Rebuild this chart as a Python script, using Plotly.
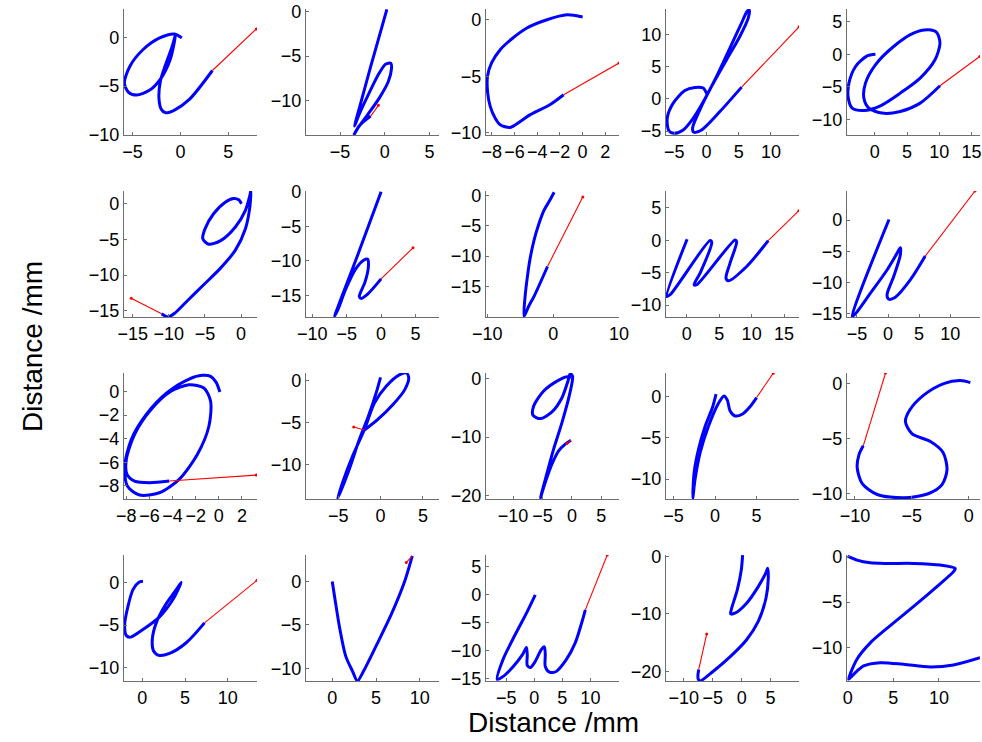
import plotly.graph_objects as go

W, H = 982, 742

# ---------------- data: pen-down trajectories (blue) and pen-up segment (red) ----------------
a_x = [0.14, -0.62, -2.17, -3.9, -5.28, -5.86, -5.45, -4.59, -3.2, -2.0, -1.07, -0.62, -0.52, -0.86, -1.55, -2.1, -2.24, -2.0, -1.55, -0.62, 0.93, 3.34]
a_y = [0.0, 0.41, 0.0, -1.2, -2.93, -4.66, -5.62, -5.93, -5.41, -4.14, -2.24, -0.34, 0.34, -0.86, -2.76, -4.48, -6.38, -7.41, -7.76, -7.48, -6.38, -3.38]
a_rx = [3.34, 7.93]
a_ry = [-3.38, 0.93]

b_x = [0.23, -0.26, -1.58, -2.7, -3.38, -2.9, -1.77, -0.64, 0.11, 0.68, 0.75, 0.38, -0.64, -1.95, -2.9, -3.46, -2.8, -1.58]
b_y = [0.26, -1.5, -6.2, -10.34, -12.9, -11.65, -9.2, -6.95, -5.9, -5.83, -6.39, -7.9, -9.77, -11.65, -12.97, -13.9, -12.8, -11.77]
b_rx = [-1.58, -0.71]
b_ry = [-11.77, -10.56]

c_x = [0.0, -1.37, -3.14, -4.9, -6.3, -7.25, -8.0, -8.37, -8.35, -8.13, -7.7, -7.25, -6.37, -5.49, -4.6, -2.85, -1.67]
c_y = [0.24, 0.44, 0.0, -0.73, -1.75, -2.65, -3.8, -5.0, -6.5, -7.67, -8.7, -9.3, -9.53, -9.0, -8.4, -7.5, -6.64]
c_rx = [-1.67, 3.2]
c_ry = [-6.64, -3.83]

d_x = [0.1, -0.52, -1.81, -3.37, -5.18, -6.11, -5.85, -5.08, -3.63, -2.07, -0.78, 1.55, 3.63, 5.44, 6.32, 6.63, 6.48, 5.18, 3.11, 0.78, -1.04, -2.18, -1.97, -0.78, 2.07, 5.44]
d_y = [0.62, 1.66, 1.76, 1.3, -0.67, -3.0, -4.97, -5.34, -4.82, -3.0, -0.93, 3.47, 7.88, 11.76, 13.58, 13.73, 12.54, 9.69, 6.06, 1.92, -1.71, -4.56, -5.18, -4.82, -1.97, 1.81]
d_rx = [5.44, 14.35]
d_ry = [1.81, 11.14]

e_x = [0.1, -1.18, -2.97, -4.0, -4.1, -3.49, -1.69, 0.87, 3.95, 7.03, 9.33, 10.1, 9.59, 8.31, 6.0, 2.92, 0.1, -1.44, -1.69, -0.92, 1.13, 3.95, 7.03, 10.1]
e_y = [0.05, -0.21, -1.85, -4.41, -6.72, -8.26, -8.62, -7.9, -5.95, -3.64, -0.82, 1.74, 3.38, 3.79, 3.28, 1.23, -1.59, -4.41, -6.72, -8.26, -9.03, -8.77, -7.49, -4.82]
e_rx = [10.1, 16.26]
e_ry = [-4.82, -0.31]

g_x = [0.05, -0.33, -1.02, -2.19, -3.81, -4.98, -5.3, -4.51, -2.88, -0.79, 0.6, 1.21, 1.35, 1.21, 0.6, -0.79, -2.88, -5.21, -7.53, -9.16, -10.1, -11.0]
g_y = [0.0, 0.56, 0.74, 0.23, -1.4, -3.49, -4.88, -5.67, -5.21, -3.26, -0.93, 1.16, 1.86, -0.47, -3.49, -6.51, -9.07, -11.4, -13.72, -15.35, -15.9, -15.44]
g_rx = [-11.0, -15.2]
g_ry = [-15.44, -13.26]

h_x = [0.0, -3.41, -6.75, -6.24, -5.12, -3.66, -2.54, -1.95, -1.85, -2.34, -3.17, -2.93, -1.95, 0.0]
h_y = [0.0, -9.17, -18.0, -16.98, -14.05, -11.12, -9.9, -9.76, -10.88, -13.07, -15.12, -15.41, -14.78, -12.59]
h_rx = [0.0, 4.63]
h_ry = [-12.59, -8.1]

i_x = [0.15, -0.6, -1.38, -2.2, -2.9, -3.5, -3.91, -4.25, -4.43, -3.7, -2.9, -0.86]
i_y = [0.5, -1.0, -2.45, -4.8, -7.36, -10.4, -13.37, -16.5, -19.9, -18.2, -16.6, -11.7]
i_rx = [-0.86, 4.5]
i_ry = [-11.7, -0.28]

m_x = [0.05, -3.08, -2.56, 3.59, 3.85, 2.05, 1.13, 1.54, 7.44, 7.69, 6.67, 6.05, 6.41, 9.23, 12.56]
m_y = [0.15, -8.67, -8.41, -0.05, -0.36, -5.08, -6.87, -6.87, 0.05, -0.21, -3.54, -5.85, -6.26, -4.05, -0.05]
m_rx = [12.56, 17.28]
m_ry = [-0.05, 4.56]

n_x = [0.16, -5.78, -5.24, -2.83, -0.16, 1.44, 1.98, 1.98, 0.91, -0.16, 0.11, 1.18, 3.58, 5.99]
n_y = [0.11, -15.5, -15.08, -11.76, -8.02, -5.35, -4.44, -5.61, -9.09, -12.03, -12.73, -12.41, -9.63, -5.78]
n_rx = [5.99, 14.0]
n_ry = [-5.78, 4.7]

o_x = [0.09, -0.23, -0.71, -1.43, -2.57, -4.43, -6.29, -7.57, -8.14, -7.91, -6.86, -5.14, -3.43, -1.86, -0.86, -0.71, -1.29, -2.57, -4.14, -5.86, -7.29, -8.0, -7.94, -7.29, -6.0, -4.29]
o_y = [-0.06, 0.76, 1.26, 1.35, 1.04, -0.08, -1.97, -4.07, -6.32, -8.01, -8.76, -8.57, -7.44, -5.34, -2.95, -0.84, 0.28, 0.56, 0.0, -1.54, -3.65, -5.76, -7.02, -7.58, -7.72, -7.58]
o_rx = [-4.29, 3.23]
o_ry = [-7.58, -7.08]

p_x = [0.0, -0.52, -1.43, -2.5, -3.69, -5.08, -4.48, -3.29, -1.9, -0.71, 0.67, 2.26, 3.06, 3.33, 2.86, 1.47, -0.32, -1.9]
p_y = [0.36, -1.5, -4.27, -7.04, -10.59, -14.15, -12.17, -9.01, -5.85, -2.69, -0.71, 0.67, 0.87, 0.28, -1.11, -2.89, -4.66, -5.93]
p_rx = [-1.9, -3.17]
p_ry = [-5.93, -5.57]

q_x = [-0.17, -0.85, -2.54, -4.8, -6.5, -6.61, -5.37, -3.39, -1.69, -0.68, -0.28, 0.11, -0.4, -1.69, -3.11, -4.35, -5.37, -4.52, -3.39, -2.26, -1.13, -0.17]
q_y = [0.17, 0.34, -0.4, -2.1, -4.66, -6.25, -6.82, -5.68, -3.24, -0.4, 0.91, 0.45, -2.67, -7.5, -12.05, -16.6, -20.45, -17.73, -14.6, -12.33, -11.19, -10.51]
q_rx = [-0.17, -0.85]
q_ry = [-10.51, -11.08]

r_x = [0.12, -0.28, -1.2, -2.0, -2.52, -2.68, -2.4, -1.8, -0.8, 0.4, 1.08, 1.48, 1.8, 2.4, 3.32, 4.2, 5.0]
r_y = [0.24, -1.27, -3.65, -6.43, -9.21, -12.3, -10.0, -6.83, -3.65, -0.87, 0.04, -0.48, -1.75, -2.38, -2.14, -1.27, -0.16]
r_rx = [5.0, 7.0]
r_ry = [-0.16, 2.78]

s_x = [0.15, -0.73, -2.19, -3.95, -5.18, -5.56, -4.97, -3.36, -2.25, -1.9, -2.34, -3.51, -5.7, -8.04, -9.36, -9.8, -9.65, -9.27]
s_y = [0.09, 0.27, 0.0, -1.05, -2.41, -3.46, -4.58, -5.27, -6.27, -7.83, -9.19, -10.0, -10.39, -10.09, -9.1, -7.68, -6.48, -5.66]
s_rx = [-9.27, -7.31]
s_ry = [-5.66, 0.96]

u_x = [0.08, -0.39, -1.09, -1.67, -2.06, -1.87, -1.4, 0.08, 2.02, 3.58, 4.36, 4.55, 3.97, 2.61, 1.63, 1.17, 1.32, 1.95, 3.19, 5.14, 7.28]
u_y = [0.12, 0.0, -0.86, -2.8, -4.94, -6.23, -6.42, -5.53, -4.05, -2.02, -0.47, 0.0, -0.86, -2.8, -4.75, -6.69, -8.05, -8.56, -8.33, -7.08, -4.75]
u_rx = [7.28, 13.42]
u_ry = [-4.75, 0.23]

v_x = [0.0, 0.38, 0.88, 1.54, 2.31, 2.88, 3.58, 5.0, 6.73, 8.27, 9.15]
v_y = [0.0, -2.48, -5.53, -8.59, -10.31, -11.45, -10.31, -7.44, -3.82, 0.0, 2.94]
v_rx = [9.15, 8.46]
v_ry = [2.94, 2.18]

w_x = [0.18, -1.25, -3.39, -5.54, -6.6, -5.7, -3.9, -2.1, -1.4, -1.25, -1.25, -0.7, 0.18, 1.25, 1.8, 1.96, 1.96, 2.7, 3.9, 5.7, 7.3, 8.6, 9.1]
w_y = [-0.12, -3.1, -7.2, -11.6, -15.2, -14.8, -13.1, -10.8, -9.5, -10.8, -12.7, -13.1, -12.0, -9.9, -9.4, -10.8, -12.9, -13.9, -13.8, -11.7, -8.7, -4.6, -2.8]
w_rx = [9.1, 13.0]
w_ry = [-2.8, 7.0]

y_x = [0.17, -0.06, -0.75, -1.72, -1.9, -1.15, 0.86, 2.87, 4.2, 4.48, 4.6, 4.2, 2.87, 0.86, -2.01, -4.89, -7.18, -7.53, -7.41]
y_y = [0.29, -2.32, -5.8, -8.99, -9.97, -9.86, -8.12, -5.22, -2.78, -2.03, -3.77, -7.25, -11.3, -14.5, -17.5, -20.0, -21.7, -21.2, -19.7]
y_rx = [-7.41, -6.03]
y_ry = [-19.7, -13.5]

z_x = [0.0, 1.02, 2.48, 4.31, 7.23, 10.15, 11.79, 11.6, 9.78, 7.23, 4.67, 2.48, 1.02, 0.11, 0.66, 1.75, 3.58, 6.13, 9.05, 11.6, 14.5]
z_y = [0.07, -0.36, -0.66, -0.73, -0.73, -0.91, -1.28, -1.64, -3.28, -5.47, -7.59, -9.49, -11.3, -13.5, -12.96, -12.04, -11.68, -11.86, -12.15, -11.93, -11.13]
z_rx = [14.5, 14.6]
z_ry = [-11.13, -11.1]

# axis limits and tick values per letter
letters = ["a", "b", "c", "d", "e", "g", "h", "i", "m", "n",
           "o", "p", "q", "r", "s", "u", "v", "w", "y", "z"]
blue_x = [a_x, b_x, c_x, d_x, e_x, g_x, h_x, i_x, m_x, n_x, o_x, p_x, q_x, r_x, s_x, u_x, v_x, w_x, y_x, z_x]
blue_y = [a_y, b_y, c_y, d_y, e_y, g_y, h_y, i_y, m_y, n_y, o_y, p_y, q_y, r_y, s_y, u_y, v_y, w_y, y_y, z_y]
red_x = [a_rx, b_rx, c_rx, d_rx, e_rx, g_rx, h_rx, i_rx, m_rx, n_rx, o_rx, p_rx, q_rx, r_rx, s_rx, u_rx, v_rx, w_rx, y_rx, z_rx]
red_y = [a_ry, b_ry, c_ry, d_ry, e_ry, g_ry, h_ry, i_ry, m_ry, n_ry, o_ry, p_ry, q_ry, r_ry, s_ry, u_ry, v_ry, w_ry, y_ry, z_ry]

x_ranges = [[-5.9, 8.0], [-8.8, 6.05], [-8.5, 3.2], [-6.3, 14.35], [-4.3, 16.3],
            [-16.2, 2.2], [-10.9, 8.4], [-10.2, 10.0], [-3.2, 17.3], [-6.6, 14.8],
            [-8.2, 3.3], [-8.8, 6.9], [-14.6, 8.0], [-5.9, 10.1], [-10.7, 1.0],
            [-2.14, 13.42], [-3.0, 12.2], [-8.6, 15.1], [-13.05, 9.9], [-0.07, 14.5]]
y_ranges = [[-10.07, 3.0], [-13.9, 0.3], [-10.2, 0.95], [-5.6, 13.9], [-12.4, 7.0],
            [-15.9, 1.8], [-18.1, 0.1], [-20.0, 0.7], [-11.85, 7.6], [-15.6, 4.7],
            [-9.1, 1.55], [-14.15, 0.87], [-20.6, 1.0], [-12.4, 2.8], [-10.5, 0.96],
            [-11.56, 3.2], [-11.45, 3.05], [-15.5, 7.0], [-21.7, 0.3], [-13.7, 0.2]]
x_ticks = [[-5, 0, 5], [-5, 0, 5], [-8, -6, -4, -2, 0, 2], [-5, 0, 5, 10], [0, 5, 10, 15],
           [-15, -10, -5, 0], [-10, -5, 0, 5], [-10, 0, 10], [0, 5, 10, 15], [-5, 0, 5, 10],
           [-8, -6, -4, -2, 0, 2], [-5, 0, 5], [-10, -5, 0, 5], [-5, 0, 5], [-10, -5, 0],
           [0, 5, 10], [0, 5, 10], [-5, 0, 5, 10], [-10, -5, 0, 5], [0, 5, 10]]
y_ticks = [[-10, -5, 0], [-10, -5, 0], [-10, -5, 0], [-5, 0, 5, 10], [-10, -5, 0, 5],
           [-15, -10, -5, 0], [-15, -10, -5, 0], [-15, -10, -5, 0], [-10, -5, 0, 5], [-15, -10, -5, 0],
           [-8, -6, -4, -2, 0], [-10, -5, 0], [-20, -10, 0], [-10, -5, 0], [-10, -5, 0],
           [-10, -5, 0], [-10, -5, 0], [-15, -10, -5, 0, 5], [-20, -10, 0], [-10, -5, 0]]

axis_title = "Distance /mm"

# ---------------- layout geometry (pixels) ----------------
col_left = [124, 306, 486, 666, 847]
row_top = [9, 191, 373, 555]
ax_w, ax_h = 133, 126

fig = go.Figure()
layout = dict(
    width=W, height=H, margin=dict(l=0, r=0, t=0, b=0, pad=0, autoexpand=False),
    paper_bgcolor="white", plot_bgcolor="white", showlegend=False,
    font=dict(family="Liberation Sans, Arial, sans-serif", size=18, color="black"),
)

axis_common = dict(showgrid=False, zeroline=False, showline=True, linecolor="#6e6e6e",
                   linewidth=1.2, ticks="inside", ticklen=3, tickcolor="#6e6e6e",
                   tickfont=dict(size=18, color="black"), mirror=False, fixedrange=True,
                   automargin=False)

for k in range(20):
    r, c = divmod(k, 5)
    idx = "" if k == 0 else str(k + 1)
    x0 = col_left[c] / W
    x1 = (col_left[c] + ax_w) / W
    y1 = 1 - row_top[r] / H
    y0 = 1 - (row_top[r] + ax_h) / H
    layout["xaxis" + idx] = dict(axis_common, domain=[x0, x1], anchor="y" + idx,
                                 range=x_ranges[k], tickvals=x_ticks[k])
    layout["yaxis" + idx] = dict(axis_common, domain=[y0, y1], anchor="x" + idx,
                                 range=y_ranges[k], tickvals=y_ticks[k])
    fig.add_trace(go.Scatter(x=blue_x[k], y=blue_y[k], mode="lines",
                             line=dict(color="#0000ff", width=3, shape="spline", smoothing=0.8),
                             xaxis="x" + idx, yaxis="y" + idx, hoverinfo="skip"))
    fig.add_trace(go.Scatter(x=red_x[k], y=red_y[k], mode="lines",
                             line=dict(color="#ff0000", width=1.1),
                             xaxis="x" + idx, yaxis="y" + idx, hoverinfo="skip"))
    fig.add_trace(go.Scatter(x=[red_x[k][-1]], y=[red_y[k][-1]], mode="markers",
                             marker=dict(color="#ff0000", size=3),
                             xaxis="x" + idx, yaxis="y" + idx, hoverinfo="skip"))

layout["annotations"] = [
    dict(text=axis_title, x=553 / W, y=1 - 722 / H, xref="paper", yref="paper",
         showarrow=False, font=dict(size=28, color="black"), xanchor="center", yanchor="middle"),
    dict(text=axis_title, x=32 / W, y=1 - 347 / H, xref="paper", yref="paper",
         showarrow=False, textangle=-90, font=dict(size=28, color="black"),
         xanchor="center", yanchor="middle"),
]
fig.update_layout(**layout)
fig.write_html("out.html", config={"displayModeBar": False},
               post_script="document.body.style.margin='0';document.body.style.overflow='hidden';")
